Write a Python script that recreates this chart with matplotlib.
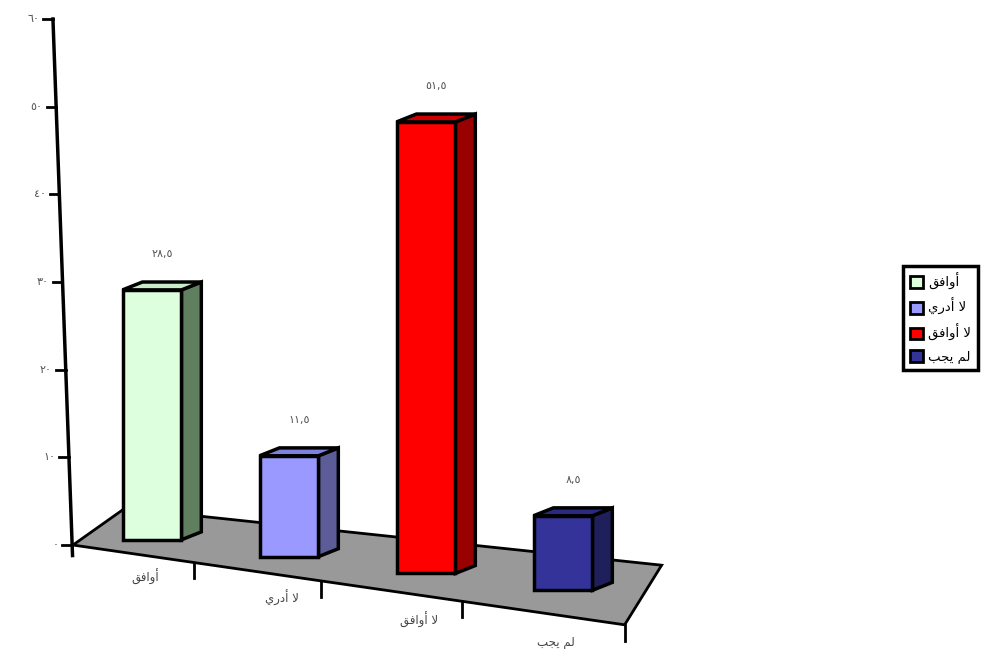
import numpy as np
import matplotlib.pyplot as plt
from matplotlib.patches import Polygon, Patch

# النصوص بأشكال العرض العربية وبترتيب العرض (matplotlib لا يشكّل العربية)
categories = ["\uFED6\uFED3\uFE8D\uFEED\uFE83",            # أوافق
              "\uFEF1\uFEAD\uFEA9\uFE83 \uFEFB",           # لا أدري
              "\uFED6\uFED3\uFE8D\uFEED\uFE83 \uFEFB",     # لا أوافق
              "\uFE90\uFEA0\uFEF3 \uFEE2\uFEDF"]           # لم يجب
values = [28.5, 11.5, 51.5, 8.5]
value_labels = ["٢٨,٥", "١١,٥", "٥١,٥", "٨,٥"]
yticks = [0, 10, 20, 30, 40, 50, 60]
ytick_labels = ["٠", "١٠", "٢٠", "٣٠", "٤٠", "٥٠", "٦٠"]

front_colors = ["#ddffdd", "#9999ff", "#ff0000", "#333399"]
side_colors = ["#5f7f5f", "#5c5c99", "#990000", "#1f1f5c"]
top_colors = ["#c8ecc8", "#8080dd", "#cc0000", "#2a2a80"]

plt.rcParams['font.family'] = ['DejaVu Sans']

fig = plt.figure(figsize=(10.05, 6.5), dpi=100)
ax = fig.add_axes([0, 0, 1, 1])
# 1 فئة = 137 بكسل، 1 وحدة = 8.77 بكسل
ax.set_xlim(-152 / 137, (1005 - 152) / 137)
ax.set_ylim(-105 / 8.77, 60 + 19 / 8.77)
ax.axis("off")

x = np.arange(len(values))
w = 0.43
dx, dy = 0.145, 0.9
slope, b0 = -1.92, 0.6
base = b0 + slope * x
vals = np.array(values)

# الأرضية
floor = [(-0.577, 0.0), (-0.197, 4.2), (3.72, -2.3), (3.45, -9.1)]
ax.add_patch(Polygon(floor, closed=True, facecolor="#999999",
                     edgecolor="black", lw=2, zorder=1))
for t in [0.31, 1.23, 2.26, 3.45]:
    yf = -9.1 * (t + 0.577) / (3.45 + 0.577)
    ax.plot([t, t], [yf, yf - 1.8], color="black", lw=2, zorder=1)

# المحور الرأسي (مائل قليلاً)
ax_top, ax_bot = -0.723, -0.584
ax.plot([ax_top, ax_bot + 0.004], [60, -1.2], color="black", lw=2.5, zorder=2)
for v, lab in zip(yticks, ytick_labels):
    xa = ax_bot + (ax_top - ax_bot) * v / 60
    ax.plot([xa - 0.07, xa], [v, v], color="black", lw=2, zorder=2)
    ax.text(xa - 0.1, v, lab, ha="right", va="center", fontsize=8, color="#555555")

# الأعمدة
ax.bar(x, vals, bottom=base, width=w, color=front_colors,
       edgecolor="black", lw=2.5, zorder=4)
for i in range(len(values)):
    xl, xr = x[i] - w / 2, x[i] + w / 2
    b, t = base[i], base[i] + vals[i]
    side = [(xr, b), (xr + dx, b + dy), (xr + dx, t + dy), (xr, t)]
    top = [(xl, t), (xl + dx, t + dy), (xr + dx, t + dy), (xr, t)]
    ax.add_patch(Polygon(side, closed=True, facecolor=side_colors[i],
                         edgecolor="black", lw=2.5, zorder=3))
    ax.add_patch(Polygon(top, closed=True, facecolor=top_colors[i],
                         edgecolor="black", lw=2.5, zorder=3))
    ax.text(x[i] + dx / 2, t + dy + 3.2, value_labels[i], ha="center",
            va="center", fontsize=8, color="#555555", zorder=5)
    yl = b - 4.2 - 0.55 * i
    ax.text(x[i] - 0.05, yl, categories[i], ha="center", va="center",
            fontsize=8.5, color="#444444")

handles = [Patch(facecolor=c, edgecolor="black", lw=2) for c in front_colors]
leg = ax.legend(handles, categories, loc="upper left",
                bbox_to_anchor=(903 / 1005, 1 - 266 / 650),
                bbox_transform=fig.transFigure, fontsize=9.5,
                handlelength=1.0, handleheight=1.0, handletextpad=0.4,
                labelspacing=0.65, borderpad=0.5, borderaxespad=0,
                fancybox=False, framealpha=1)
leg.get_frame().set_edgecolor("black")
leg.get_frame().set_linewidth(2.5)

plt.savefig("out.png", dpi=100)
